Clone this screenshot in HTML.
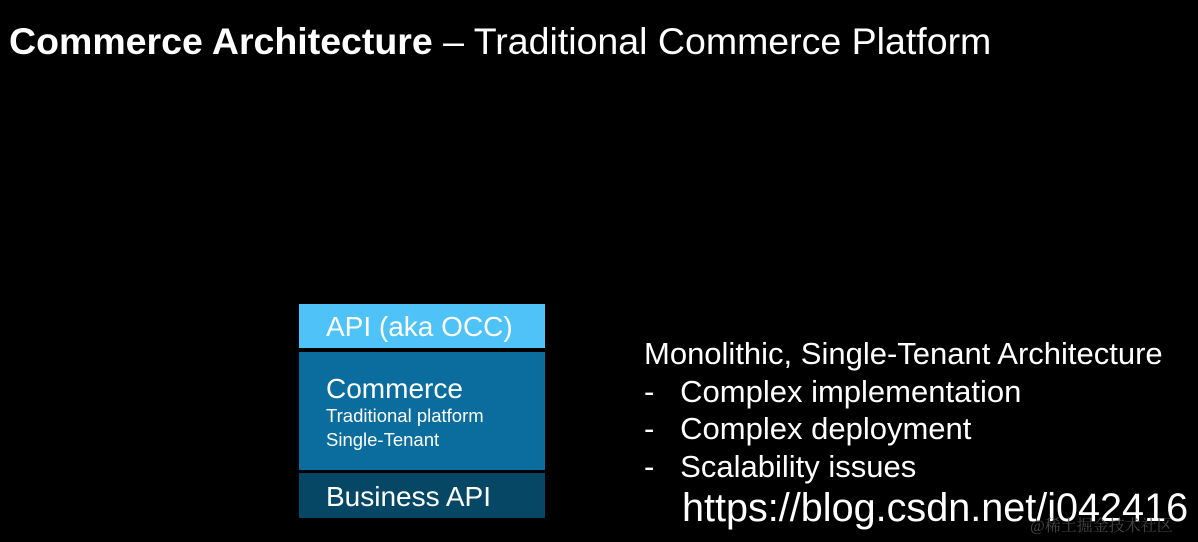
<!DOCTYPE html>
<html><head><style>
body{margin:0;width:1198px;height:542px;background:#000;position:relative;overflow:hidden;font-family:"Liberation Sans",Arial,sans-serif;color:#fff}
.a{position:absolute;white-space:nowrap}
</style></head><body>
<div class="a" style="left:9px;top:20px;font-size:37.5px"><b>Commerce Architecture</b> – Traditional Commerce Platform</div>
<div class="a" style="left:299px;top:304px;width:246px;height:44px;background:#4fc3f7"></div>
<div class="a" style="left:299px;top:352px;width:246px;height:118px;background:#0a6d9e"></div>
<div class="a" style="left:299px;top:473px;width:246px;height:45px;background:#074766"></div>
<div class="a" style="left:326px;top:311px;font-size:28px">API (aka OCC)</div>
<div class="a" style="left:326px;top:373px;font-size:28px">Commerce</div>
<div class="a" style="left:326px;top:405px;font-size:18.5px">Traditional platform</div>
<div class="a" style="left:326px;top:429px;font-size:18.5px">Single-Tenant</div>
<div class="a" style="left:326px;top:481px;font-size:28px">Business API</div>
<div class="a" style="left:644px;top:335px;font-size:31px;line-height:37.5px">Monolithic, Single-Tenant Architecture<br>-&nbsp;&nbsp;&nbsp;Complex implementation<br>-&nbsp;&nbsp;&nbsp;Complex deployment<br>-&nbsp;&nbsp;&nbsp;Scalability issues</div>
<div class="a" style="left:682px;top:486px;font-size:39.6px">https://blog.csdn.net/i042416</div>
<div class="a" style="left:1030px;top:513px;font-size:16px;color:#444;font-family:'Liberation Serif','Noto Serif CJK SC',serif">@稀土掘金技术社区</div>
</body></html>
